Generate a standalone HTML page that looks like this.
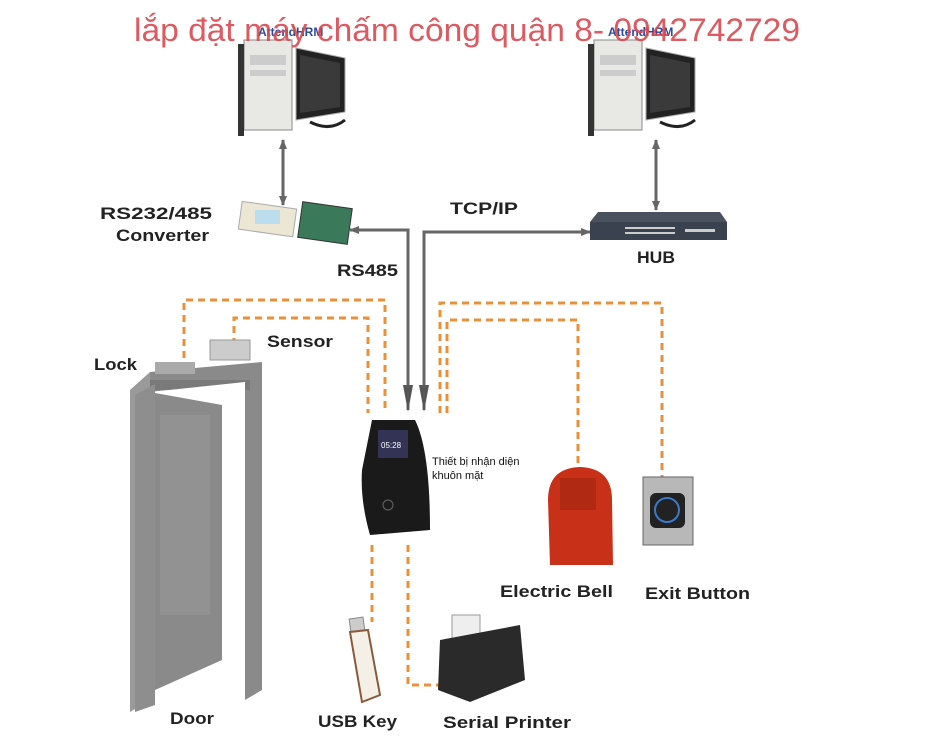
<!DOCTYPE html>
<html><head><meta charset="utf-8"><style>
html,body{margin:0;padding:0;background:#fff;}
svg{display:block;}
text{font-family:"Liberation Sans","DejaVu Sans",sans-serif;}
.b{font-weight:bold;font-size:17px;fill:#222;}
</style></head><body>
<svg width="934" height="752" viewBox="0 0 934 752">
<rect width="934" height="752" fill="#fff"/>
<defs>
<marker id="ah" markerWidth="10" markerHeight="10" refX="9" refY="5" orient="auto" markerUnits="userSpaceOnUse"><path d="M0,1 L10,5 L0,9 Z" fill="#666"/></marker>
<marker id="ahs" markerWidth="10" markerHeight="10" refX="1" refY="5" orient="auto" markerUnits="userSpaceOnUse"><path d="M10,1 L0,5 L10,9 Z" fill="#666"/></marker>
</defs>
<g id="pc">
<rect x="244" y="40" width="48" height="90" fill="#e8e8e4" stroke="#888"/>
<rect x="238" y="44" width="6" height="92" fill="#333"/>
<rect x="250" y="55" width="36" height="10" fill="#ccc"/>
<rect x="250" y="70" width="36" height="6" fill="#ccc"/>
<polygon points="296,48 345,58 345,112 296,120" fill="#222" stroke="#aaa"/>
<polygon points="300,55 340,63 340,107 300,113" fill="#3a3a3a"/>
<path d="M310,122 Q330,132 345,120" stroke="#222" stroke-width="3" fill="none"/>
</g>
<use href="#pc" x="350"/>
<text x="258" y="36" font-family="Liberation Serif" font-weight="bold" font-size="12" fill="#2a4a9a">AttendHRM</text>
<text x="608" y="36" font-family="Liberation Serif" font-weight="bold" font-size="12" fill="#2a4a9a">AttendHRM</text>
<text x="134" y="41" font-size="32" fill="#d9484f" fill-opacity="0.9" textLength="666" lengthAdjust="spacingAndGlyphs">lắp đặt máy chấm công quận 8- 0942742729</text>
<line x1="283" y1="140" x2="283" y2="205" stroke="#666" stroke-width="3" marker-end="url(#ah)" marker-start="url(#ahs)"/>
<line x1="656" y1="140" x2="656" y2="210" stroke="#666" stroke-width="3" marker-end="url(#ah)" marker-start="url(#ahs)"/>
<rect x="240" y="205" width="55" height="28" fill="#ece6d4" stroke="#aaa" transform="rotate(8 267 219)"/>
<rect x="255" y="210" width="25" height="14" fill="#bde" />
<rect x="300" y="205" width="50" height="36" fill="#3a7a5a" stroke="#333" transform="rotate(8 325 223)"/>
<polyline points="408,410 408,230 350,230" fill="none" stroke="#666" stroke-width="3" marker-end="url(#ah)"/>
<polyline points="424,410 424,232 590,232" fill="none" stroke="#666" stroke-width="3" marker-end="url(#ah)"/>
<polygon points="403,385 413,385 408,412" fill="#555"/>
<polygon points="419,385 429,385 424,412" fill="#555"/>
<polygon points="598,212 720,212 727,222 590,222" fill="#4a5260"/>
<rect x="590" y="222" width="137" height="18" fill="#3a4250"/>
<g fill="#ccc"><rect x="625" y="227" width="50" height="2"/><rect x="625" y="232" width="50" height="2"/><rect x="685" y="229" width="30" height="3"/></g>
<text class="b" x="100" y="219" textLength="112" lengthAdjust="spacingAndGlyphs">RS232/485</text>
<text class="b" x="116" y="241" textLength="93" lengthAdjust="spacingAndGlyphs">Converter</text>
<text class="b" x="450" y="214" textLength="68" lengthAdjust="spacingAndGlyphs">TCP/IP</text>
<text class="b" x="337" y="276" textLength="61" lengthAdjust="spacingAndGlyphs">RS485</text>
<text class="b" x="637" y="263" textLength="38" lengthAdjust="spacingAndGlyphs">HUB</text>
<g fill="none" stroke="#e8903a" stroke-width="3" stroke-dasharray="7,5">
<polyline points="184,358 184,300 385,300 385,413"/>
<polyline points="234,345 234,318 368,318 368,413"/>
<polyline points="440,413 440,303 662,303 662,478"/>
<polyline points="447,413 447,320 578,320 578,485"/>
<polyline points="372,545 372,622"/>
<polyline points="408,545 408,685 440,685"/>
</g>
<polygon points="150,372 262,362 262,690 245,700 245,382 150,392" fill="#8a8a8a"/>
<polygon points="130,390 150,372 150,700 130,712" fill="#9a9a9a"/>
<rect x="150" y="380" width="100" height="10" fill="#7a7a7a"/>
<polygon points="150,392 245,382 245,700 150,710" fill="#fff"/>
<polygon points="135,395 155,384 155,705 135,712" fill="#8e8e8e"/>
<polygon points="155,393 222,405 222,660 155,690" fill="#8a8a8a"/>
<rect x="160" y="415" width="50" height="200" fill="#999" opacity="0.5"/>
<rect x="155" y="362" width="40" height="12" fill="#aaa"/>
<rect x="210" y="340" width="40" height="20" fill="#ccc" stroke="#999"/>
<text class="b" x="94" y="370" textLength="43" lengthAdjust="spacingAndGlyphs">Lock</text>
<text class="b" x="267" y="347" textLength="66" lengthAdjust="spacingAndGlyphs">Sensor</text>
<rect x="348" y="413" width="172" height="128" fill="#fff"/>
<path d="M372,420 L415,420 Q430,450 430,530 L370,535 Q360,500 362,470 Z" fill="#1a1a1a"/>
<rect x="378" y="430" width="30" height="28" fill="#335" />
<text x="381" y="448" font-size="8" fill="#fff">05:28</text>
<circle cx="388" cy="505" r="5" fill="none" stroke="#666"/>
<text x="432" y="465" font-size="11" fill="#111">Thiết bị nhận diện</text>
<text x="432" y="479" font-size="11" fill="#111">khuôn mặt</text>
<path d="M548,500 Q548,468 580,467 Q612,468 612,500 L613,565 L550,565 Z" fill="#c83018"/>
<rect x="560" y="478" width="36" height="32" fill="#a02510" opacity="0.6"/>
<rect x="643" y="477" width="50" height="68" fill="#b8b8b8" stroke="#666"/>
<rect x="650" y="493" width="35" height="35" rx="6" fill="#222"/>
<circle cx="667" cy="510" r="12" fill="none" stroke="#3a7acc" stroke-width="2"/>
<text class="b" x="500" y="597" textLength="113" lengthAdjust="spacingAndGlyphs">Electric Bell</text>
<text class="b" x="645" y="599" textLength="105" lengthAdjust="spacingAndGlyphs">Exit Button</text>
<rect x="350" y="618" width="14" height="14" fill="#ccc" stroke="#888" transform="rotate(-8 357 625)"/>
<path d="M350,632 L368,630 L380,695 L362,702 Z" fill="#f4f0e8" stroke="#8a5a3a" stroke-width="2"/>
<rect x="452" y="615" width="28" height="24" fill="#eee" stroke="#999"/>
<path d="M440,640 L520,625 L525,680 L470,702 L438,690 Z" fill="#2a2a2a"/>
<text class="b" x="170" y="724" textLength="44" lengthAdjust="spacingAndGlyphs">Door</text>
<text class="b" x="318" y="727" textLength="79" lengthAdjust="spacingAndGlyphs">USB Key</text>
<text class="b" x="443" y="728" textLength="128" lengthAdjust="spacingAndGlyphs">Serial Printer</text>
</svg>
</body></html>
